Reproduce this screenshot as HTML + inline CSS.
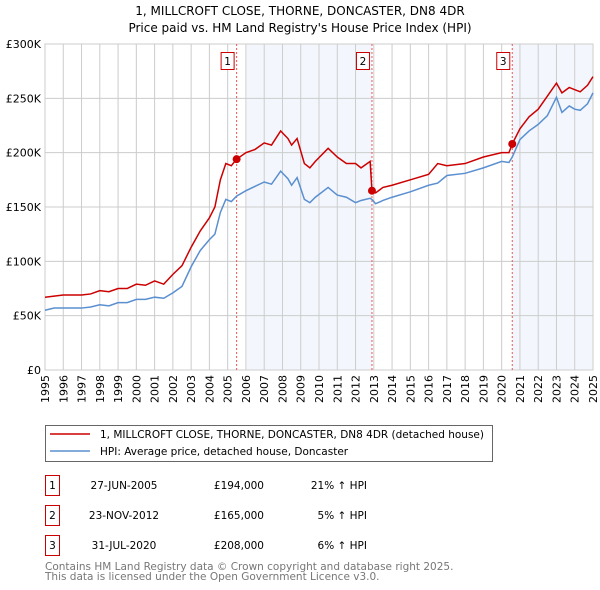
<!DOCTYPE html>
<html><head><meta charset="utf-8"><style>
body{margin:0;background:#fff;font-family:"DejaVu Sans","Liberation Sans",sans-serif;}
svg{display:block}
</style></head><body>
<svg id="chart" width="600" height="590" viewBox="0 0 600 590" font-family="DejaVu Sans, Liberation Sans, sans-serif">
<text x="300" y="15" text-anchor="middle" font-size="12">1, MILLCROFT CLOSE, THORNE, DONCASTER, DN8 4DR</text>
<text x="300" y="32" text-anchor="middle" font-size="12">Price paid vs. HM Land Registry's House Price Index (HPI)</text>
<g id="plot"></g>
<g>
<rect x="45.5" y="425.5" width="447" height="36" fill="#fff" stroke="#666"/>
<line x1="50" y1="434" x2="90" y2="434" stroke="#cc0000" stroke-width="1.5"/>
<text x="100" y="438" font-size="10.5">1, MILLCROFT CLOSE, THORNE, DONCASTER, DN8 4DR (detached house)</text>
<line x1="50" y1="451" x2="90" y2="451" stroke="#5a8fd0" stroke-width="1.5"/>
<text x="100" y="455" font-size="10.5">HPI: Average price, detached house, Doncaster</text>
</g>
<g font-size="10.5">
<rect x="45.5" y="475.5" width="14" height="20" fill="none" stroke="#cc0000"/><text x="52.5" y="489" text-anchor="middle">1</text>
<text x="124" y="489" text-anchor="middle">27-JUN-2005</text><text x="264" y="489" text-anchor="end">£194,000</text><text x="367" y="489" text-anchor="end">21% ↑ HPI</text>
<rect x="45.5" y="505.5" width="14" height="20" fill="none" stroke="#cc0000"/><text x="52.5" y="519" text-anchor="middle">2</text>
<text x="124" y="519" text-anchor="middle">23-NOV-2012</text><text x="264" y="519" text-anchor="end">£165,000</text><text x="367" y="519" text-anchor="end">5% ↑ HPI</text>
<rect x="45.5" y="535.5" width="14" height="20" fill="none" stroke="#cc0000"/><text x="52.5" y="549" text-anchor="middle">3</text>
<text x="124" y="549" text-anchor="middle">31-JUL-2020</text><text x="264" y="549" text-anchor="end">£208,000</text><text x="367" y="549" text-anchor="end">6% ↑ HPI</text>
</g>
<text x="45" y="570" font-size="10.5" fill="#777">Contains HM Land Registry data © Crown copyright and database right 2025.</text>
<text x="45" y="580" font-size="10.5" fill="#777">This data is licensed under the Open Government Licence v3.0.</text>
</svg>
<script>
const yTicks=[0,50,100,150,200,250,300];
const yTickLabels=["£0","£50K","£100K","£150K","£200K","£250K","£300K"];
const xYears=[1995,1996,1997,1998,1999,2000,2001,2002,2003,2004,2005,2006,2007,2008,2009,2010,2011,2012,2013,2014,2015,2016,2017,2018,2019,2020,2021,2022,2023,2024,2025];
const hpiDates=[1995,1995.5,1996,1996.5,1997,1997.5,1998,1998.5,1999,1999.5,2000,2000.5,2001,2001.5,2002,2002.5,2003,2003.5,2004,2004.3,2004.6,2004.9,2005.2,2005.49,2006,2006.5,2007,2007.4,2007.9,2008.3,2008.5,2008.8,2009.2,2009.5,2009.8,2010.5,2011,2011.5,2012,2012.3,2012.8,2012.9,2013.1,2013.5,2014,2015,2016,2016.5,2017,2018,2019,2020,2020.4,2020.58,2021,2021.5,2022,2022.5,2023,2023.3,2023.7,2024,2024.3,2024.7,2025];
const hpiValues=[55,57,57,57,57,58,60,59,62,62,65,65,67,66,71,77,95,110,120,125,145,157,155,160,165,169,173,171,183,176,170,177,157,154,159,168,161,159,154,156,158,157,153,156,159,164,170,172,179,181,186,192,191,196,212,220,226,234,251,237,243,240,239,245,255];
const priceValues=[67,68,69,69,69,70,73,72,75,75,79,78,82,79,88,96,113,128,140,150,175,190,188,194,200,203,209,207,220,213,207,213,190,186,192,204,196,190,190,186,192,165,163,168,170,175,180,190,188,190,196,200,200,208,222,233,240,252,264,255,260,258,256,262,270];
const saleDates=[2005.49,2012.9,2020.58];
const saleValues=[194,165,208];
const saleLabels=["1","2","3"];
const shadeRanges=[[2006.05,2012.9],[2020.58,2025]];

const L=45,R=593,T=44,B=370;
const xs=d=>L+(d-1995)/(2025-1995)*(R-L);
const ys=v=>B-v/300*(B-T);
const NS="http://www.w3.org/2000/svg";
const g=document.getElementById('plot');
function mk(t,a){const e=document.createElementNS(NS,t);for(const k in a)e.setAttribute(k,a[k]);g.appendChild(e);return e;}
shadeRanges.forEach(r=>{const e=mk('rect',{x:xs(r[0]),y:T,width:xs(r[1])-xs(r[0]),height:B-T,fill:'#eef3fc',opacity:0.7});

});
xYears.forEach(y=>{const e=mk('line',{x1:xs(y),x2:xs(y),y1:T,y2:B,stroke:'#cccccc','stroke-width':1});


const t=mk('text',{x:0,y:0,transform:`translate(${xs(y)+4},${B+5}) rotate(-90)`,'text-anchor':'end','font-size':11});
t.textContent=y;

});
yTicks.forEach((v,i)=>{const e=mk('line',{x1:L,x2:R,y1:ys(v),y2:ys(v),stroke:'#cccccc','stroke-width':1});


const t=mk('text',{x:L-4,y:ys(v)+4,'text-anchor':'end','font-size':11});
t.textContent=yTickLabels[i];

});
mk('rect',{x:L,y:T,width:R-L,height:B-T,fill:'none',stroke:'#cccccc'});
saleDates.forEach((d,i)=>{const e=mk('line',{x1:xs(d),x2:xs(d),y1:T,y2:B,stroke:'#ee5555','stroke-dasharray':'2,2','stroke-width':1});


const bx=xs(d)-16;
const r=mk('rect',{x:bx+0.5,y:52.5,width:13,height:17,fill:'#fff',stroke:'#cc0000'});


const t=mk('text',{x:bx+7,y:65,'text-anchor':'middle','font-size':10.5});
t.textContent=saleLabels[i];

});
const hp=mk('polyline',{points:hpiDates.map((d,i)=>xs(d)+','+ys(hpiValues[i])).join(' '),fill:'none',stroke:'#5a8fd0','stroke-width':1.5});


const pp=mk('polyline',{points:hpiDates.map((d,i)=>xs(d)+','+ys(priceValues[i])).join(' '),fill:'none',stroke:'#cc0000','stroke-width':1.5});


saleDates.forEach((d,i)=>{const c=mk('circle',{cx:xs(d),cy:ys(saleValues[i]),r:4,fill:'#cc0000'});

});
</script>
</body></html>
